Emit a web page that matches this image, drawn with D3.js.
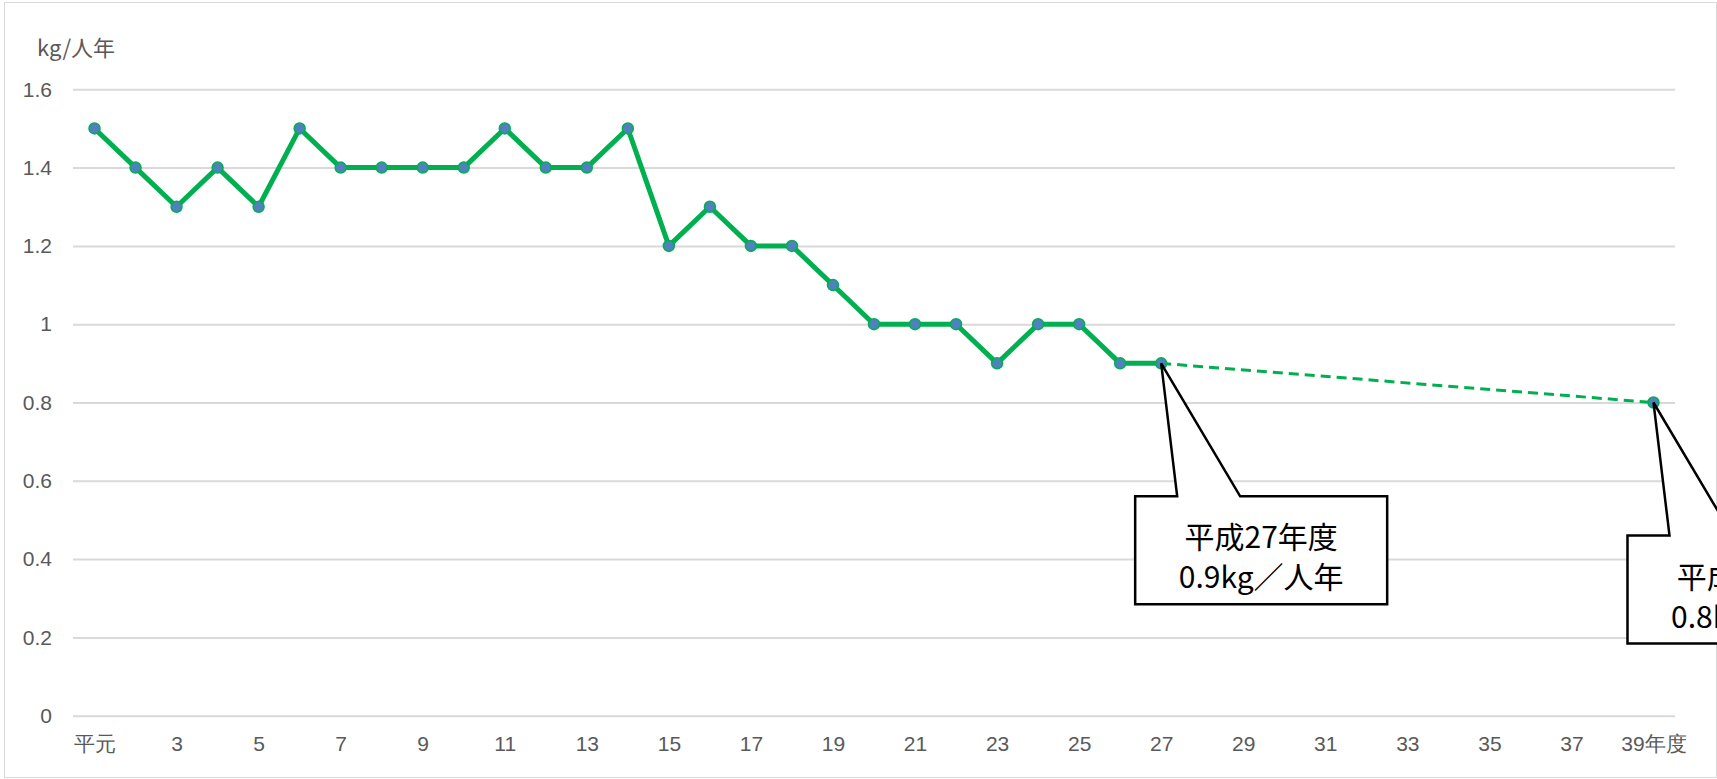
<!DOCTYPE html>
<html>
<head>
<meta charset="utf-8">
<script src="https://cdn.jsdelivr.net/npm/d3@7"></script>
<style>
  body { margin: 0; background: #fff; }
  svg { display: block; font-family: "Noto Sans CJK JP", "Noto Sans", sans-serif; }
</style>
</head>
<body>
<div id="chart"></div>
<script>
// categories: 平成 years 1..39 (平元 = 1)
const years = [1, 2, 3, 4, 5, 6, 7, 8, 9, 10, 11, 12, 13, 14, 15, 16, 17, 18, 19, 20,
  21, 22, 23, 24, 25, 26, 27, 28, 29, 30, 31, 32, 33, 34, 35, 36, 37, 38, 39];
const tickYears = [1, 3, 5, 7, 9, 11, 13, 15, 17, 19, 21, 23, 25, 27, 29, 31, 33, 35, 37, 39];
const tickNames = ["平元", "3", "5", "7", "9", "11", "13", "15", "17", "19", "21", "23", "25",
  "27", "29", "31", "33", "35", "37", "39年度"];

// actual values (kg/人年)
const actualYears = [1, 2, 3, 4, 5, 6, 7, 8, 9, 10, 11, 12, 13, 14, 15, 16, 17, 18, 19, 20,
  21, 22, 23, 24, 25, 26, 27];
const actualValues = [1.5, 1.4, 1.3, 1.4, 1.3, 1.5, 1.4, 1.4, 1.4, 1.4, 1.5, 1.4, 1.4, 1.5,
  1.2, 1.3, 1.2, 1.2, 1.1, 1.0, 1.0, 1.0, 0.9, 1.0, 1.0, 0.9, 0.9];

// target line
const targetYears = [27, 39];
const targetValues = [0.9, 0.8];

const yTicks = [0, 0.2, 0.4, 0.6, 0.8, 1, 1.2, 1.4, 1.6];
const yTickNames = ["0", "0.2", "0.4", "0.6", "0.8", "1", "1.2", "1.4", "1.6"];

const callouts = [
  { year: 27, value: 0.9, line1: "平成27年度", line2: "0.9kg／人年" },
  { year: 39, value: 0.8, line1: "平成39年度", line2: "0.8kg／人年" }
];

const width = 1717;
const height = 779;
const plotLeft = 74, plotRight = 1674, plotTop = 89.3, plotBottom = 715.7;
const green = "#00b050";
const textGray = "#595959";

const svg = d3.select("#chart").append("svg")
  .attr("width", width)
  .attr("height", height);

// chart frame
svg.append("rect")
  .attr("x", 4.5).attr("y", 2.5)
  .attr("width", 1712).attr("height", 775)
  .attr("fill", "#fff")
  .attr("stroke", "#d9d9d9");

const x = d3.scalePoint().domain(years).range([plotLeft, plotRight]).padding(0.5);
const y = d3.scaleLinear().domain([0, 1.6]).range([plotBottom, plotTop]);

// y axis + gridlines
const yAxis = svg.append("g")
  .attr("transform", `translate(${plotLeft - 1},0)`)
  .call(d3.axisLeft(y)
    .tickValues(yTicks)
    .tickSize(-(plotRight - plotLeft + 2))
    .tickPadding(21)
    .tickFormat((d, i) => yTickNames[i]));
yAxis.select(".domain").remove();
yAxis.selectAll(".tick line").attr("stroke", "#d9d9d9").attr("stroke-width", 2);
yAxis.selectAll(".tick text")
  .attr("fill", textGray)
  .style("font-size", "21px");

// x axis labels
const xAxis = svg.append("g")
  .attr("transform", `translate(0,${plotBottom})`)
  .call(d3.axisBottom(x)
    .tickValues(tickYears)
    .tickSize(0)
    .tickPadding(20)
    .tickFormat((d, i) => tickNames[i]));
xAxis.select(".domain").remove();
xAxis.selectAll(".tick text")
  .attr("fill", textGray)
  .style("font-size", "21px");

// unit label
svg.append("text")
  .attr("x", 37).attr("y", 46)
  .attr("dominant-baseline", "central")
  .attr("fill", textGray)
  .style("font-size", "22px")
  .text("kg/人年");

// target dashed line
const target = targetYears.map((d, i) => ({ year: d, value: targetValues[i] }));
svg.append("path")
  .datum(target)
  .attr("fill", "none")
  .attr("stroke", green)
  .attr("stroke-width", 3)
  .attr("stroke-dasharray", "10,6")
  .attr("d", d3.line().x(d => x(d.year)).y(d => y(d.value)));

// actual line
const actual = actualYears.map((d, i) => ({ year: d, value: actualValues[i] }));
svg.append("path")
  .datum(actual)
  .attr("fill", "none")
  .attr("stroke", green)
  .attr("stroke-width", 5)
  .attr("stroke-linejoin", "round")
  .attr("d", d3.line().x(d => x(d.year)).y(d => y(d.value)));

// markers
svg.append("g")
  .selectAll("circle")
  .data(actual.concat([target[1]]))
  .enter()
  .append("circle")
  .attr("cx", d => x(d.year))
  .attr("cy", d => y(d.value))
  .attr("r", 5.5)
  .attr("fill", "#4f81bd")
  .attr("stroke", green)
  .attr("stroke-width", 1.5);

// callouts
const boxW = 252, boxH = 108;
const call = svg.append("g").selectAll("g")
  .data(callouts)
  .enter()
  .append("g");

call.append("path")
  .attr("fill", "#fff")
  .attr("stroke", "#000")
  .attr("stroke-width", 2.5)
  .attr("d", d => {
    const px = x(d.year), py = y(d.value);
    const bx = px - 26, by = py + 133;
    return `M${bx},${by} L${bx + 42},${by} L${px},${py} L${bx + 105},${by}` +
      ` L${bx + boxW},${by} L${bx + boxW},${by + boxH} L${bx},${by + boxH} Z`;
  });

call.append("text")
  .attr("x", d => x(d.year) - 26 + boxW / 2)
  .attr("y", d => y(d.value) + 133 + 39)
  .attr("text-anchor", "middle")
  .attr("dominant-baseline", "central")
  .style("font-size", "30px")
  .text(d => d.line1);

call.append("text")
  .attr("x", d => x(d.year) - 26 + boxW / 2)
  .attr("y", d => y(d.value) + 133 + 79)
  .attr("text-anchor", "middle")
  .attr("dominant-baseline", "central")
  .style("font-size", "30px")
  .text(d => d.line2);
</script>
</body>
</html>
